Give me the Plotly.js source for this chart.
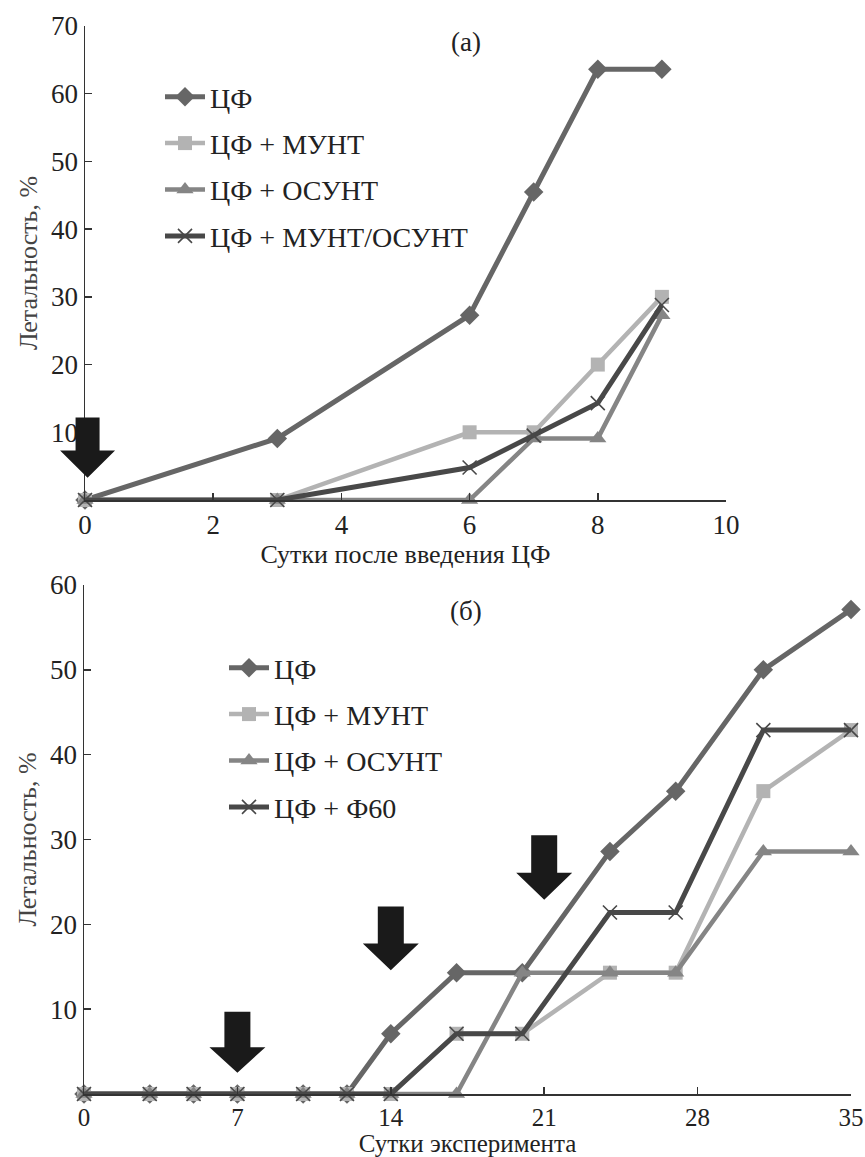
<!DOCTYPE html>
<html>
<head>
<meta charset="utf-8">
<script src="https://cdn.plot.ly/plotly-3.0.1.min.js"></script>
<style>html,body{margin:0;padding:0;background:#fff;}</style>
</head>
<body>
<div id="chart" style="width:865px;height:1157px;"></div>
<script>
// ---- Panel (а) data ----
const daysA = [0, 3, 6, 7, 8, 9];
const seriesNamesA = ['ЦФ', 'ЦФ + МУНТ', 'ЦФ + ОСУНТ', 'ЦФ + МУНТ/ОСУНТ'];
const a_CF = [0, 9.1, 27.3, 45.5, 63.6, 63.6];
const a_MUNT = [0, 0, 10, 10, 20, 30];
const a_OSUNT = [0, 0, 0, 9.1, 9.1, 27.3];
const a_MIX = [0, 0, 4.8, 9.5, 14.3, 28.8];
const xTicksA = [0, 2, 4, 6, 8, 10];
const yTicksA = [10, 20, 30, 40, 50, 60, 70];

// ---- Panel (б) data ----
const daysB = [0, 3, 5, 7, 10, 12, 14, 17, 20, 24, 27, 31, 35];
const seriesNamesB = ['ЦФ', 'ЦФ + МУНТ', 'ЦФ + ОСУНТ', 'ЦФ + Ф60'];
const b_CF = [0, 0, 0, 0, 0, 0, 7.1, 14.3, 14.3, 28.6, 35.7, 50, 57.1];
const b_MUNT = [0, 0, 0, 0, 0, 0, 0, 7.1, 7.1, 14.3, 14.3, 35.7, 42.9];
const b_OSUNT = [0, 0, 0, 0, 0, 0, 0, 0, 14.3, 14.3, 14.3, 28.6, 28.6];
const b_F60 = [0, 0, 0, 0, 0, 0, 0, 7.1, 7.1, 21.4, 21.4, 42.9, 42.9];
const xTicksB = [0, 7, 14, 21, 28, 35];
const yTicksB = [10, 20, 30, 40, 50, 60];

// ---- Injection arrows (day, top of shaft, tip) ----
const arrowsA = {day: [0.04], top: [12.2], tip: [3.3]};
const arrowsB = {day: [7, 14, 21], top: [9.7, 22.1, 30.5], tip: [2.5, 14.6, 22.9]};

const FONT = 'Liberation Serif';
const W = 865, H = 1157;
const domXA = [85 / W, 726 / W], rangeXA = [0, 10];
const domXB = [84 / W, 851 / W], rangeXB = [0, 35];

const styles = [
  {color: '#666666', width: 5, symbol: 'diamond', size: 15, lw: 0},
  {color: '#b3b3b3', width: 4.5, symbol: 'square', size: 14, lw: 0},
  {color: '#858585', width: 4.5, symbol: 'triangle-up', size: 15, lw: 0},
  {color: '#484848', width: 5, symbol: 'x-thin', size: 14, lw: 1.6}
];

function mk(x, y, name, st, xa, ya, leg) {
  return {
    type: 'scatter', mode: 'lines+markers', x: x, y: y, name: name,
    xaxis: xa, yaxis: ya, legend: leg, legendgroup: leg + name,
    cliponaxis: false,
    line: {color: st.color, width: st.width},
    marker: {symbol: st.symbol, size: st.size, color: st.color,
             line: {color: st.color, width: st.lw}},
    hoverinfo: 'x+y+name'
  };
}

const seriesA = [a_CF, a_MUNT, a_OSUNT, a_MIX];
const seriesB = [b_CF, b_MUNT, b_OSUNT, b_F60];
const traces = [];
seriesA.forEach((s, i) => traces.push(mk(daysA, s, seriesNamesA[i], styles[i], 'x', 'y', 'legend')));
seriesB.forEach((s, i) => traces.push(mk(daysB, s, seriesNamesB[i], styles[i], 'x2', 'y2', 'legend2')));

// arrows: x converted to paper fraction (so they are not clipped at the axis), y in data units
function arrowShapes(arr, shaftHalfPx, headHalfPx, headFrac, dom, rng, yref) {
  const toPaper = d => dom[0] + (d - rng[0]) / (rng[1] - rng[0]) * (dom[1] - dom[0]);
  const s = shaftHalfPx / W, h = headHalfPx / W;
  return arr.day.map((d, i) => {
    const cx = toPaper(d);
    const top = arr.top[i], tip = arr.tip[i];
    const base = tip + (top - tip) * headFrac;
    const p = 'M' + (cx - s) + ',' + top + ' L' + (cx + s) + ',' + top +
      ' L' + (cx + s) + ',' + base + ' L' + (cx + h) + ',' + base +
      ' L' + cx + ',' + tip + ' L' + (cx - h) + ',' + base +
      ' L' + (cx - s) + ',' + base + ' Z';
    return {type: 'path', path: p, xref: 'paper', yref: yref, fillcolor: '#1a1a1a',
            line: {width: 0}, layer: 'above'};
  });
}

const axisBase = {
  showline: true, linecolor: '#333', linewidth: 1.5, showgrid: false, zeroline: false,
  ticks: 'inside', ticklen: 7, tickwidth: 1.5, tickcolor: '#333',
  tickfont: {family: FONT, size: 27, color: '#222'}
};

const layout = {
  width: W, height: H,
  margin: {l: 0, r: 0, t: 0, b: 0},
  paper_bgcolor: '#fff', plot_bgcolor: 'rgba(0,0,0,0)',
  font: {family: FONT, color: '#222'},
  showlegend: true,
  xaxis: Object.assign({}, axisBase, {
    domain: domXA, range: rangeXA, anchor: 'y',
    tickmode: 'array', tickvals: xTicksA,
    title: {text: 'Сутки после введения ЦФ', font: {family: FONT, size: 26, color: '#222'}, standoff: 0}
  }),
  yaxis: Object.assign({}, axisBase, {
    domain: [1 - 500 / H, 1 - 26 / H], range: [0, 70], anchor: 'x',
    tickmode: 'array', tickvals: yTicksA,
    title: {text: 'Летальность, %', font: {family: FONT, size: 26, color: '#444'}, standoff: 6}
  }),
  xaxis2: Object.assign({}, axisBase, {
    domain: domXB, range: rangeXB, anchor: 'y2',
    tickmode: 'array', tickvals: xTicksB,
    tickfont: {family: FONT, size: 25, color: '#222'},
    title: {text: 'Сутки эксперимента', font: {family: FONT, size: 25, color: '#222'}, standoff: 2}
  }),
  yaxis2: Object.assign({}, axisBase, {
    domain: [1 - 1094 / H, 1 - 585 / H], range: [0, 60], anchor: 'x2',
    tickmode: 'array', tickvals: yTicksB,
    title: {text: 'Летальность, %', font: {family: FONT, size: 26, color: '#444'}, standoff: 6}
  }),
  legend: {
    x: 160 / W, y: 1 - 72 / H, xanchor: 'left', yanchor: 'top',
    bgcolor: 'rgba(0,0,0,0)', font: {family: FONT, size: 28, color: '#222'},
    tracegroupgap: 7, itemwidth: 40
  },
  legend2: {
    x: 224 / W, y: 1 - 643 / H, xanchor: 'left', yanchor: 'top',
    bgcolor: 'rgba(0,0,0,0)', font: {family: FONT, size: 28, color: '#222'},
    tracegroupgap: 7, itemwidth: 40
  },
  annotations: [
    {text: '(а)', xref: 'paper', yref: 'paper', x: 466 / W, y: 1 - 25 / H,
     showarrow: false, font: {family: FONT, size: 27, color: '#222'}},
    {text: '(б)', xref: 'paper', yref: 'paper', x: 466 / W, y: 1 - 611 / H,
     showarrow: false, font: {family: FONT, size: 27, color: '#222'}}
  ],
  shapes: [].concat(
    arrowShapes(arrowsA, 12, 27.5, 0.45, domXA, rangeXA, 'y'),
    arrowShapes(arrowsB, 13, 28, 0.42, domXB, rangeXB, 'y2')
  )
};

Plotly.newPlot('chart', traces, layout, {displayModeBar: false, staticPlot: true});
</script>
</body>
</html>
